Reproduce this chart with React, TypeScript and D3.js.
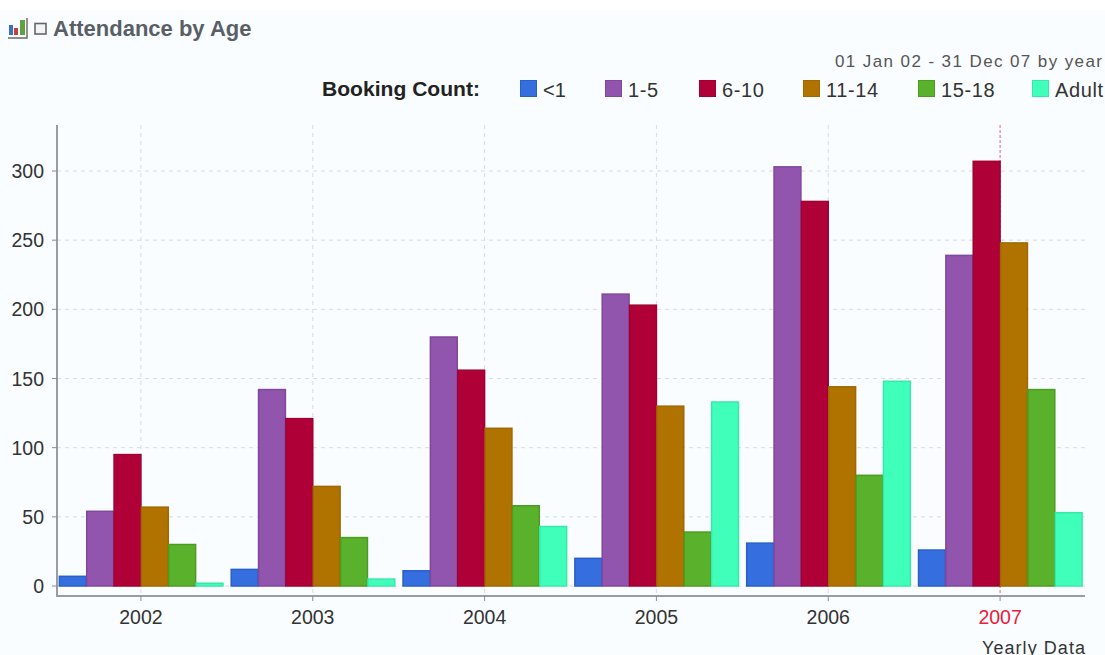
import React from "react";
import * as d3 from "d3";

const years = ["2002", "2003", "2004", "2005", "2006", "2007"];
const ageGroups = ["<1", "1-5", "6-10", "11-14", "15-18", "Adult"];
const under1 = [7, 12, 11, 20, 31, 26];
const age1to5 = [54, 142, 180, 211, 303, 239];
const age6to10 = [95, 121, 156, 203, 278, 307];
const age11to14 = [57, 72, 114, 130, 144, 248];
const age15to18 = [30, 35, 58, 39, 80, 142];
const adult = [2, 5, 43, 133, 148, 53];
const seriesValues = [under1, age1to5, age6to10, age11to14, age15to18, adult];
const fills = ["#356fdf", "#9155ae", "#b00038", "#b07300", "#5ab22c", "#40ffbb"];
const strokes = ["#2a5fc9", "#80479c", "#a00034", "#a06800", "#4c9c20", "#38e8a8"];
const yTicks = [0, 50, 100, 150, 200, 250, 300];
const legendX = [520, 605, 699, 803, 918, 1032];
const highlightYear = "2007";

const FONT = "'Liberation Sans', Arial, sans-serif";
const AXIS_TOP = 125;
const AXIS_BOTTOM = 596;
const AXIS_LEFT = 57;
const AXIS_RIGHT = 1085;

export default function App() {
  const x = d3.scaleBand<string>().domain(years).range([55, 1086]).paddingInner(0.045).paddingOuter(0.0225);
  const inner = d3.scaleBand<number>().domain(d3.range(ageGroups.length)).range([0, x.bandwidth()]);
  const y = d3.scaleLinear().domain([0, 300]).range([586, 171]);

  return (
    <svg
      width={1105}
      height={655}
      style={{ position: "absolute", left: 0, top: 0, display: "block" }}
      fontFamily={FONT}
    >
      <rect width={1105} height={655} fill="#ffffff" />
      <rect y={10} width={1105} height={645} fill="#f9fdff" />

      {/* Panel icon and title */}
      <g>
        <rect x={9} y={25} width={4} height={10} fill="#3d6fc0" />
        <rect x={14} y={28} width={4} height={7} fill="#c04040" />
        <rect x={20} y={20} width={5} height={15} fill="#60a040" />
        <path d="M27 18V38H8" fill="none" stroke="#666" strokeWidth={1.4} />
        <rect x={35} y={23.5} width={11} height={10.5} fill="#f4f4f4" stroke="#666" strokeWidth={1.6} />
      </g>
      <text x={53} y={36} fontSize={22} fontWeight={700} fill="#5a5f66">
        Attendance by Age
      </text>
      <text x={1102} y={67} textAnchor="end" fontSize={17} fill="#555" textLength={267} lengthAdjust="spacing">
        01 Jan 02 - 31 Dec 07 by year
      </text>

      {/* Legend */}
      <text x={322} y={96} fontSize={21} fontWeight={700} fill="#222" textLength={158} lengthAdjust="spacingAndGlyphs">
        Booking Count:
      </text>
      {ageGroups.map((label, i) => (
        <g key={label}>
          <rect x={legendX[i] + 0.5} y={80.5} width={16} height={16} fill={fills[i]} stroke={strokes[i]} />
          <text x={legendX[i] + 23} y={97} fontSize={20} letterSpacing={label === "<1" ? 0 : 0.6} fill="#333">
            {label}
          </text>
        </g>
      ))}

      {/* Grid */}
      <g stroke="#d9dcde" strokeDasharray="4 4">
        {yTicks.map((t) => (
          <line key={t} x1={AXIS_LEFT} x2={AXIS_RIGHT} y1={y(t)} y2={y(t)} />
        ))}
        {years.map((yr) => {
          const cx = x(yr)! + x.bandwidth() / 2;
          return (
            <line
              key={yr}
              x1={cx}
              x2={cx}
              y1={AXIS_TOP}
              y2={AXIS_BOTTOM}
              stroke={yr === highlightYear ? "#f06070" : "#d9dcde"}
              strokeDasharray={yr === highlightYear ? "3 2" : "4 4"}
            />
          );
        })}
      </g>

      {/* Bars */}
      {seriesValues.map((values, s) => (
        <g key={ageGroups[s]} fill={fills[s]} stroke={strokes[s]} strokeWidth={1.5}>
          {values.map((v, i) => (
            <rect
              key={years[i]}
              x={x(years[i])! + inner(s)! + 0.5}
              y={y(v)}
              width={inner.bandwidth() - 0.5}
              height={y(0) - y(v)}
            />
          ))}
        </g>
      ))}

      {/* Axes */}
      <path
        d={`M${AXIS_LEFT} ${AXIS_TOP}V${AXIS_BOTTOM}H${AXIS_RIGHT}`}
        fill="none"
        stroke="#9a9c9e"
        strokeWidth={2}
      />
      {yTicks.map((t) => (
        <g key={t}>
          <line x1={AXIS_LEFT - 5} x2={AXIS_LEFT} y1={y(t)} y2={y(t)} stroke="#8a8c8e" />
          <text x={44} y={y(t) + 7} textAnchor="end" fontSize={19.5} fill="#333">
            {t}
          </text>
        </g>
      ))}
      {years.map((yr) => {
        const cx = x(yr)! + x.bandwidth() / 2;
        return (
          <g key={yr}>
            <line x1={cx} x2={cx} y1={AXIS_BOTTOM} y2={AXIS_BOTTOM + 5} stroke="#8a8c8e" />
            <text
              x={cx}
              y={624}
              textAnchor="middle"
              fontSize={19.5}
              fill={yr === highlightYear ? "#e8203c" : "#333"}
            >
              {yr}
            </text>
          </g>
        );
      })}
      <text x={1085} y={654} textAnchor="end" fontSize={18} fill="#333" textLength={103} lengthAdjust="spacing">
        Yearly Data
      </text>
    </svg>
  );
}
